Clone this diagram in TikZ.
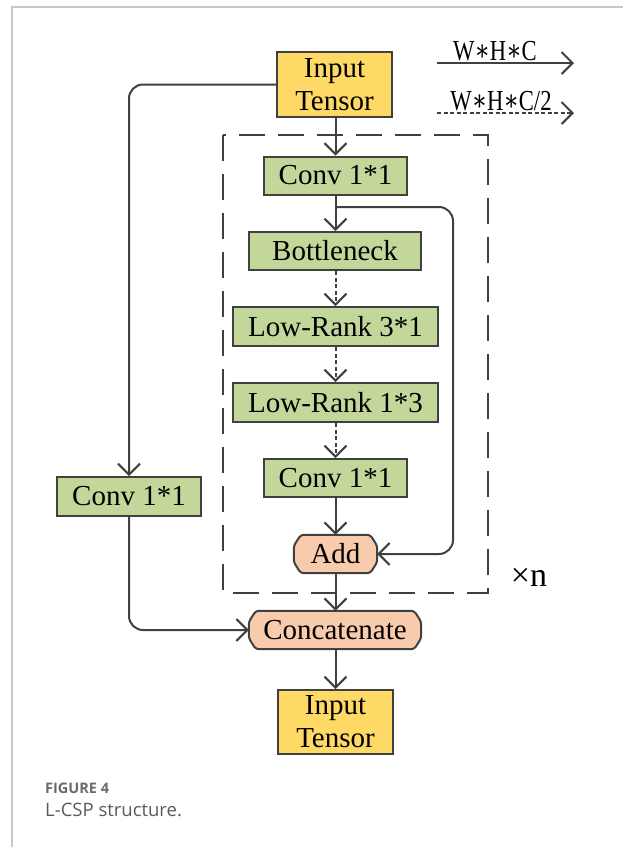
\documentclass[tikz,border=0pt]{standalone}
\usepackage{fontspec}
\usepackage{graphicx}
\setmainfont{Liberation Serif}
\newfontfamily\capfont{Open Sans}
\newfontfamily\symfont{DejaVu Serif}
\usetikzlibrary{arrows.meta}
\definecolor{lineC}{HTML}{404040}
\definecolor{greenF}{HTML}{C4D79B}
\definecolor{yellowF}{HTML}{FFD966}
\definecolor{peachF}{HTML}{F8CBAD}
\definecolor{frameC}{HTML}{C8C8C8}
\definecolor{capA}{HTML}{6A6A6A}
\definecolor{capB}{HTML}{5A5A5A}
\pgfdeclarelayer{bg}
\pgfsetlayers{bg,main}
\begin{document}
\begin{tikzpicture}[x=1pt,y=-1pt,
  box/.style={draw=lineC,line width=2pt,inner sep=0pt,align=center,
    font=\fontsize{29}{33}\selectfont},
  greenbox/.style={box,fill=greenF,minimum height=38pt},
  yellowbox/.style={box,fill=yellowF,minimum width=115pt,minimum height=65pt},
  peachtext/.style={inner sep=0pt,minimum height=38pt,font=\fontsize{29}{33}\selectfont},
  arr/.style={draw=lineC,line width=2pt,-{Straight Barb[length=11pt,width=22pt]}},
  dotarr/.style={arr,dash pattern=on 4pt off 2.5pt},
  legtext/.style={inner sep=0pt,font=\fontsize{29}{32}\selectfont},
]
\useasboundingbox (0,0) rectangle (623,847);
\draw[frameC,line width=1.5pt] (623,7) -- (12,7) -- (12,847);

% legend
\node[legtext,anchor=base] (lg1) at (495,60) {\scalebox{0.78}[1]{W{\symfont∗}H{\symfont∗}C}};
\node[legtext,anchor=base] (lg2) at (501,110) {\scalebox{0.78}[1]{W{\symfont∗}H{\symfont∗}C/2}};
\coordinate (ls1) at (437,63);
\coordinate (le1) at (574,63);
\coordinate (ls2) at (437,113);
\coordinate (le2) at (574,113);
\draw[arr] (ls1) -- (le1);
\draw[dotarr] (ls2) -- (le2);

% dashed loop box
\draw[lineC,line width=2pt,dash pattern=on 26pt off 13pt] (223,135) rectangle (488,593);
\node[inner sep=0pt,font=\fontsize{34}{36}\selectfont,anchor=base] (times) at (529,586) {×n};

% nodes
\node[yellowbox] (in1) at (334.5,84.5) {Input\\Tensor};
\node[greenbox,minimum width=143pt] (conv1) at (335.5,175.5) {Conv 1*1};
\node[greenbox,minimum width=172pt] (bott) at (335,251) {Bottleneck};
\node[greenbox,minimum width=205pt,minimum height=39pt] (lr31) at (335.5,326.5) {Low-Rank 3*1};
\node[greenbox,minimum width=205pt,minimum height=39pt] (lr13) at (335.5,402.5) {Low-Rank 1*3};
\node[greenbox,minimum width=143pt] (conv2) at (335.5,478) {Conv 1*1};
\node[peachtext,minimum width=83pt] (add) at (335.5,554) {Add};
\node[greenbox,minimum width=144pt,minimum height=39pt] (convL) at (129,496.5) {Conv 1*1};
\node[peachtext,minimum width=172pt] (concat) at (335,630) {Concatenate};
\node[yellowbox,minimum height=64pt] (in2) at (335.5,722) {Input\\Tensor};

\begin{pgfonlayer}{bg}
\foreach \n in {add,concat}{
  \draw[lineC,line width=2pt,fill=peachF,rounded corners=3pt]
    ([xshift=7pt]\n.north west) -- ([xshift=-7pt]\n.north east)
    -- ([yshift=-11pt]\n.north east) -- ([yshift=11pt]\n.south east)
    -- ([xshift=-7pt]\n.south east) -- ([xshift=7pt]\n.south west)
    -- ([yshift=11pt]\n.south west) -- ([yshift=-11pt]\n.north west) -- cycle;
}
\end{pgfonlayer}

% connectors
\draw[arr] (in1.south -| conv1.north) -- (conv1.north);
\draw[arr] (conv1.south) -- (bott.north -| conv1.south);
\draw[dotarr] (bott.south -| lr31.north) -- (lr31.north);
\draw[dotarr] (lr31.south) -- (lr13.north);
\draw[dotarr] (lr13.south) -- (conv2.north);
\draw[arr] (conv2.south) -- (add.north);
\coordinate (sk) at (335.5,207);
\draw[arr,rounded corners=14pt] (sk) -- (453,207) -- (453,554) -- (add.east);
\draw[arr] (add.south) -- (concat.north -| add.south);
\draw[arr] (concat.south -| in2.north) -- (in2.north);
\draw[arr,rounded corners=14pt] (in1.west) -- (129,84.5) -- (convL.north);
\draw[arr,rounded corners=14pt] (convL.south) -- (129,630) -- (concat.west);

% caption
\node[anchor=base west,inner sep=0pt,font=\capfont\bfseries\fontsize{14.5}{17}\selectfont,text=capA] (fig) at (45,793) {FIGURE 4};
\node[anchor=base west,inner sep=0pt,font=\capfont\fontsize{18.5}{21}\selectfont,text=capB] (cap) at (45,816) {L-CSP structure.};
\end{tikzpicture}
\end{document}
